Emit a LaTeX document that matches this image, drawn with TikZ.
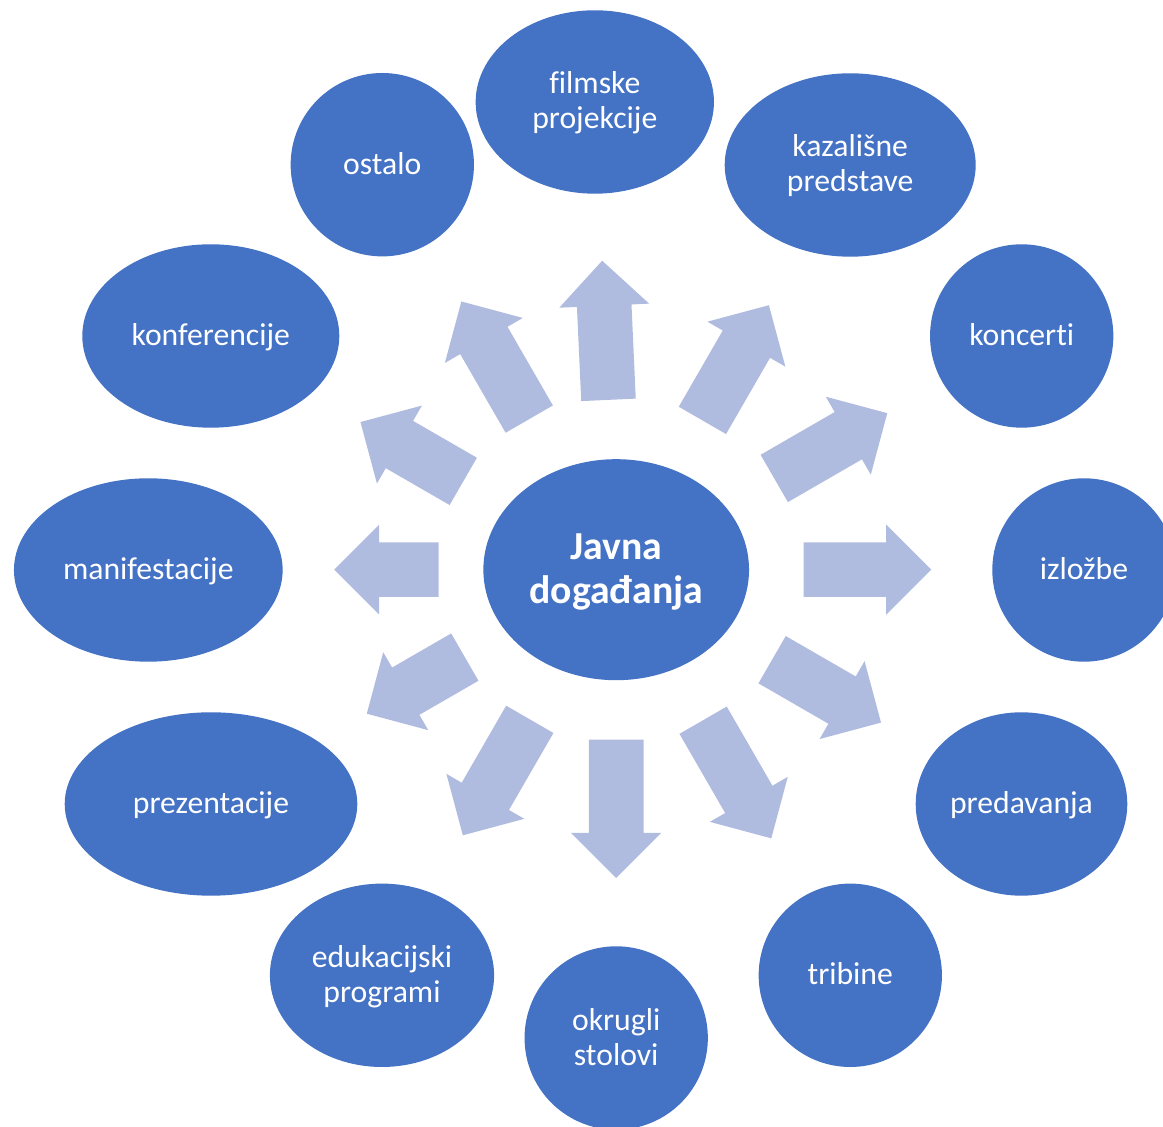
\documentclass[tikz,border=0pt]{standalone}
\usepackage{fontspec}
\setmainfont{Carlito}[Ligatures=NoCommon]
\usetikzlibrary{shapes.geometric}
\definecolor{nodeblue}{RGB}{68,114,196}
\definecolor{arrowblue}{RGB}{176,188,223}
\newcommand\lnstrut{\rule[-0.22em]{0pt}{1.04em}}
\tikzset{
  outer/.style={ellipse, fill=nodeblue, text=white, inner sep=0pt,
    minimum height=183.4pt, align=center,
    font=\fontsize{31.7}{35}\selectfont},
  hub/.style={ellipse, fill=nodeblue, text=white, inner sep=0pt,
    minimum width=265.7pt, minimum height=221pt, align=center,
    font=\fontsize{39.7}{43.5}\selectfont\bfseries},
  blockarrow/.style={fill=arrowblue}
}
\begin{document}
\begin{tikzpicture}[x=1pt,y=1pt]
\useasboundingbox (0,0) rectangle (1163,1127);
\node[hub] (hub) at (616.2,557.3) {\lnstrut Javna\\\lnstrut događanja};
\node[outer, minimum width=238.3pt] (filmske) at (594.8,1025) {\lnstrut filmske\\\lnstrut projekcije};
\node[outer, minimum width=251pt] (kazalisne) at (850.2,962) {\lnstrut kazališne\\\lnstrut predstave};
\node[outer, minimum width=183.3pt] (koncerti) at (1021.7,791) {\lnstrut koncerti};
\node[outer, minimum width=183.4pt] (izlozbe) at (1084,557) {\lnstrut izložbe};
\node[outer, minimum width=211.6pt] (predavanja) at (1021.5,323) {\lnstrut predavanja};
\node[outer, minimum width=183.3pt] (tribine) at (850.3,151.7) {\lnstrut tribine};
\node[outer, minimum width=183.3pt] (okrugli) at (616.2,89) {\lnstrut okrugli\\\lnstrut stolovi};
\node[outer, minimum width=224.2pt] (edukacijski) at (382,151.7) {\lnstrut edukacijski\\\lnstrut programi};
\node[outer, minimum width=292.6pt] (prezentacije) at (211,323) {\lnstrut prezentacije};
\node[outer, minimum width=268.7pt] (manifestacije) at (148.3,557) {\lnstrut manifestacije};
\node[outer, minimum width=257pt] (konferencije) at (210.8,791) {\lnstrut konferencije};
\node[outer, minimum width=183.3pt] (ostalo) at (382.3,962.3) {\lnstrut ostalo};
\foreach \a/\ra/\rb in {0/187.3/315, 30/182.5/313, 60/172.4/305.4, 92.6/170/309.3,
  120/173.9/309.7, 150/176.6/295.3, 180/177.7/282, 210/174.8/288,
  240/172.8/306.7, 270/170/308.3, 300/173.8/310.2, 330/180/305.8}{
  \begin{scope}[shift={(hub.center)}, rotate=\a]
    \fill[blockarrow] (\ra,-27.3) -- ({\rb-45},-27.3) -- ({\rb-45},-45) -- (\rb,0)
      -- ({\rb-45},45) -- ({\rb-45},27.3) -- (\ra,27.3) -- cycle;
  \end{scope}
}
\end{tikzpicture}
\end{document}
